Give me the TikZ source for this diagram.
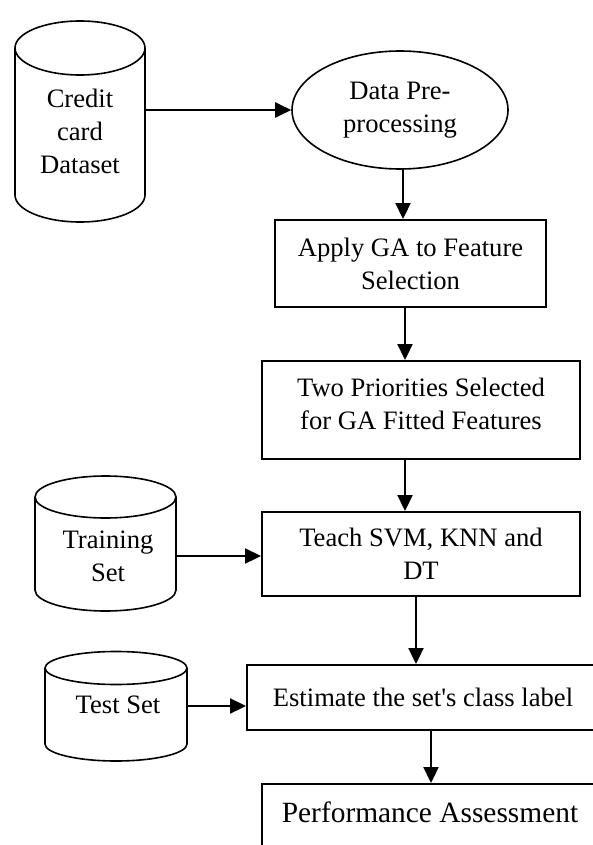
\documentclass[tikz,border=0pt]{standalone}
\usepackage{fontspec}
\newfontfamily\tnr{Liberation Serif}
\usetikzlibrary{shapes.geometric,arrows.meta}
\begin{document}
\begin{tikzpicture}[x=1pt,y=-1pt,
  txt/.style={font=\tnr\fontsize{26.6}{33}\selectfont, align=center, inner sep=0pt},
  procbox/.style={draw, line width=2pt, inner sep=0pt, txt},
  cylline/.style={line width=1.6pt},
  arr/.style={line width=2.3pt, -{Triangle[length=16pt,width=15pt]}}]
\useasboundingbox (0,0) rectangle (593,845);
\clip (0,0) rectangle (593,845);

% Credit card dataset cylinder
\draw[cylline] (15,48) -- (15,195) arc[start angle=180,end angle=0,x radius=65,y radius=27] -- (145,48);
\draw[cylline] (80,48) ellipse [x radius=65, y radius=27];
\node[txt] (cc) at (80,131) {Credit\\card\\Dataset};
\coordinate (ccE) at (145,110);

% Training set cylinder
\draw[cylline] (35,497) -- (35,590) arc[start angle=180,end angle=0,x radius=70.5,y radius=21] -- (176,497);
\draw[cylline] (105.5,497) ellipse [x radius=70.5, y radius=21];
\node[txt] (tr) at (108,556) {Training\\Set};
\coordinate (trE) at (176,556);

% Test set cylinder
\draw[cylline] (45,668) -- (45,744) arc[start angle=180,end angle=0,x radius=71,y radius=17] -- (187,668);
\draw[cylline] (116,668) ellipse [x radius=71, y radius=16.5];
\node[txt] (ts) at (118,705) {Test Set};
\coordinate (tsE) at (187,706);

% Process nodes
\node[draw, ellipse, line width=1.6pt, inner sep=0pt, txt, minimum width=216pt, minimum height=118pt] (dp) at (400,110) {Data Pre-\\processing};
\node[procbox, minimum width=271pt, minimum height=87pt] (ga) at (410.5,263.5) {Apply GA to Feature\\Selection};
\node[procbox, minimum width=318pt, minimum height=98pt] (tp) at (421,410) {};
\node[txt] (tpT) at (421,404) {Two Priorities Selected\\for GA Fitted Features};
\node[procbox, minimum width=318pt, minimum height=84pt] (te) at (421,554) {Teach SVM, KNN and\\DT};
\node[procbox, minimum width=352pt, minimum height=65pt] (es) at (423,697.5) {Estimate the set's class label};
\node[procbox, minimum width=336pt, minimum height=76pt] (pa) at (430,822) {};
\node[txt, font=\tnr\fontsize{29.4}{36}\selectfont] (paT) at (430,812) {Performance Assessment};

% Connectors
\draw[arr] (ccE) -- (ccE -| dp.west);
\draw[arr] ([xshift=3pt]dp.south) -- ([xshift=3pt]dp.south |- ga.north);
\draw[arr] ([xshift=-5.5pt]ga.south) -- ([xshift=-5.5pt]ga.south |- tp.north);
\draw[arr] ([xshift=-16pt]tp.south) -- ([xshift=-16pt]tp.south |- te.north);
\draw[arr] (trE) -- (trE -| te.west);
\draw[arr] ([xshift=-5pt]te.south) -- ([xshift=-5pt]te.south |- es.north);
\draw[arr] (tsE) -- (tsE -| es.west);
\draw[arr] ([xshift=8pt]es.south) -- ([xshift=8pt]es.south |- pa.north);
\end{tikzpicture}
\end{document}
